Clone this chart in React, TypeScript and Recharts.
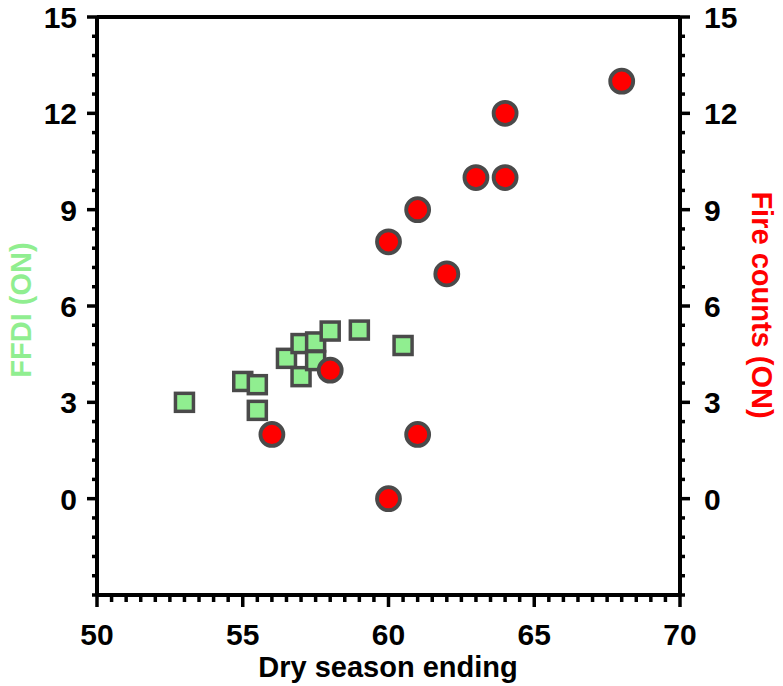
import { ScatterChart, Scatter, XAxis, YAxis } from "recharts";

// FFDI (ON) vs dry season ending (green squares, left axis)
const ffdiX = [53, 55, 55.5, 55.5, 56.5, 57, 57, 57.5, 57.5, 58, 59, 60.5];
const ffdiY = [3.0, 3.65, 3.55, 2.75, 4.37, 4.83, 3.8, 4.88, 4.3, 5.22, 5.25, 4.77];

// Fire counts (ON) vs dry season ending (red circles, right axis)
const fireX = [56, 58, 60, 60, 61, 61, 62, 63, 64, 64, 68];
const fireY = [2, 4, 0, 8, 9, 2, 7, 10, 10, 12, 13];

const xMajor = [50, 55, 60, 65, 70];
const yMajor = [0, 3, 6, 9, 12, 15];

const xTicks = Array.from({ length: 41 }, (_, i) => Math.round((50 + i * 0.5) * 10) / 10);
const yTicks = Array.from({ length: 31 }, (_, i) => Math.round((-3 + i * 0.6) * 10) / 10);

const ffdiData = ffdiX.map((x, i) => ({ x, y: ffdiY[i] }));
const fireData = fireX.map((x, i) => ({ x, y: fireY[i] }));

const FONT = "'Liberation Sans', Arial, Helvetica, sans-serif";
const OUTLINE = "#4a4a4a";

const isMajor = (v: number, majors: number[]) => majors.some((m) => Math.abs(m - v) < 1e-6);

const tickText = {
  fontFamily: FONT,
  fontSize: 30,
  fontWeight: 700,
  fill: "#000",
};

const BottomTick = (props: any) => {
  const { x, y, payload } = props;
  const major = isMajor(payload.value, xMajor);
  return (
    <g>
      <line x1={x} x2={x} y1={y} y2={y + (major ? 12 : 7)} stroke="#000" strokeWidth={3.5} />
      {major && (
        <text x={x} y={y + 50} textAnchor="middle" style={tickText}>
          {payload.value}
        </text>
      )}
    </g>
  );
};

const TopTick = (props: any) => {
  const { x, y, payload } = props;
  const major = isMajor(payload.value, xMajor);
  return <line x1={x} x2={x} y1={y} y2={y - (major ? 12 : 7)} stroke="#000" strokeWidth={3.5} />;
};

const LeftTick = (props: any) => {
  const { x, y, payload } = props;
  const major = isMajor(payload.value, yMajor);
  return (
    <g>
      <line x1={x} x2={x - (major ? 10 : 5)} y1={y} y2={y} stroke="#000" strokeWidth={3.5} />
      {major && (
        <text x={x - 20} y={y + 11} textAnchor="end" style={tickText}>
          {payload.value}
        </text>
      )}
    </g>
  );
};

const RightTick = (props: any) => {
  const { x, y, payload } = props;
  const major = isMajor(payload.value, yMajor);
  return (
    <g>
      <line x1={x} x2={x + (major ? 10 : 5)} y1={y} y2={y} stroke="#000" strokeWidth={3.5} />
      {major && (
        <text x={x + 24} y={y + 11} textAnchor="start" style={{ ...tickText, fontWeight: 600 }}>
          {payload.value}
        </text>
      )}
    </g>
  );
};

const titleStyle = { fontFamily: FONT, fontSize: 29, fontWeight: 700 };

const XTitle = () => (
  <text x={388} y={677} textAnchor="middle" style={{ ...titleStyle, fill: "#000" }}>
    Dry season ending
  </text>
);

const LeftTitle = () => (
  <text
    x={31}
    y={310}
    textAnchor="middle"
    transform="rotate(-90 31 310)"
    style={{ ...titleStyle, fill: "#90ee90" }}
  >
    FFDI (ON)
  </text>
);

const RightTitle = () => (
  <text
    x={752}
    y={305}
    textAnchor="middle"
    transform="rotate(90 752 305)"
    style={{ ...titleStyle, fill: "#ff0000" }}
  >
    Fire counts (ON)
  </text>
);

const Square = (props: any) => {
  const { cx, cy } = props;
  return (
    <rect x={cx - 9} y={cy - 9} width={18} height={18} fill="#90ee90" stroke={OUTLINE} strokeWidth={3.5} />
  );
};

const Dot = (props: any) => {
  const { cx, cy } = props;
  return <circle cx={cx} cy={cy} r={11.5} fill="#ff0000" stroke={OUTLINE} strokeWidth={3.8} />;
};

const axisLine = { stroke: "#000", strokeWidth: 4 };

export default function App() {
  return (
    <div style={{ position: "absolute", left: 0, top: 0, width: 783, height: 686, background: "#fff" }}>
      <ScatterChart width={783} height={686} margin={{ top: 0, right: 0, bottom: 0, left: 0 }}>
        <XAxis
          xAxisId="bottom"
          dataKey="x"
          type="number"
          domain={[50, 70]}
          ticks={xTicks}
          interval={0}
          height={91}
          tickSize={0}
          tickMargin={0}
          tickLine={false}
          axisLine={axisLine}
          tick={<BottomTick />}
          label={<XTitle />}
        />
        <XAxis
          xAxisId="top"
          orientation="top"
          type="number"
          domain={[50, 70]}
          ticks={xTicks}
          interval={0}
          height={17}
          tickSize={0}
          tickMargin={0}
          tickLine={false}
          axisLine={axisLine}
          tick={<TopTick />}
        />
        <YAxis
          yAxisId="left"
          dataKey="y"
          type="number"
          domain={[-3, 15]}
          ticks={yTicks}
          interval={0}
          width={97}
          tickSize={0}
          tickMargin={0}
          tickLine={false}
          axisLine={axisLine}
          tick={<LeftTick />}
          label={<LeftTitle />}
        />
        <YAxis
          yAxisId="right"
          orientation="right"
          dataKey="y"
          type="number"
          domain={[-3, 15]}
          ticks={yTicks}
          interval={0}
          width={103}
          tickSize={0}
          tickMargin={0}
          tickLine={false}
          axisLine={axisLine}
          tick={<RightTick />}
          label={<RightTitle />}
        />
        <Scatter
          name="FFDI (ON)"
          data={ffdiData}
          xAxisId="bottom"
          yAxisId="left"
          shape={<Square />}
          isAnimationActive={false}
        />
        <Scatter
          name="Fire counts (ON)"
          data={fireData}
          xAxisId="bottom"
          yAxisId="right"
          shape={<Dot />}
          isAnimationActive={false}
        />
      </ScatterChart>
    </div>
  );
}
